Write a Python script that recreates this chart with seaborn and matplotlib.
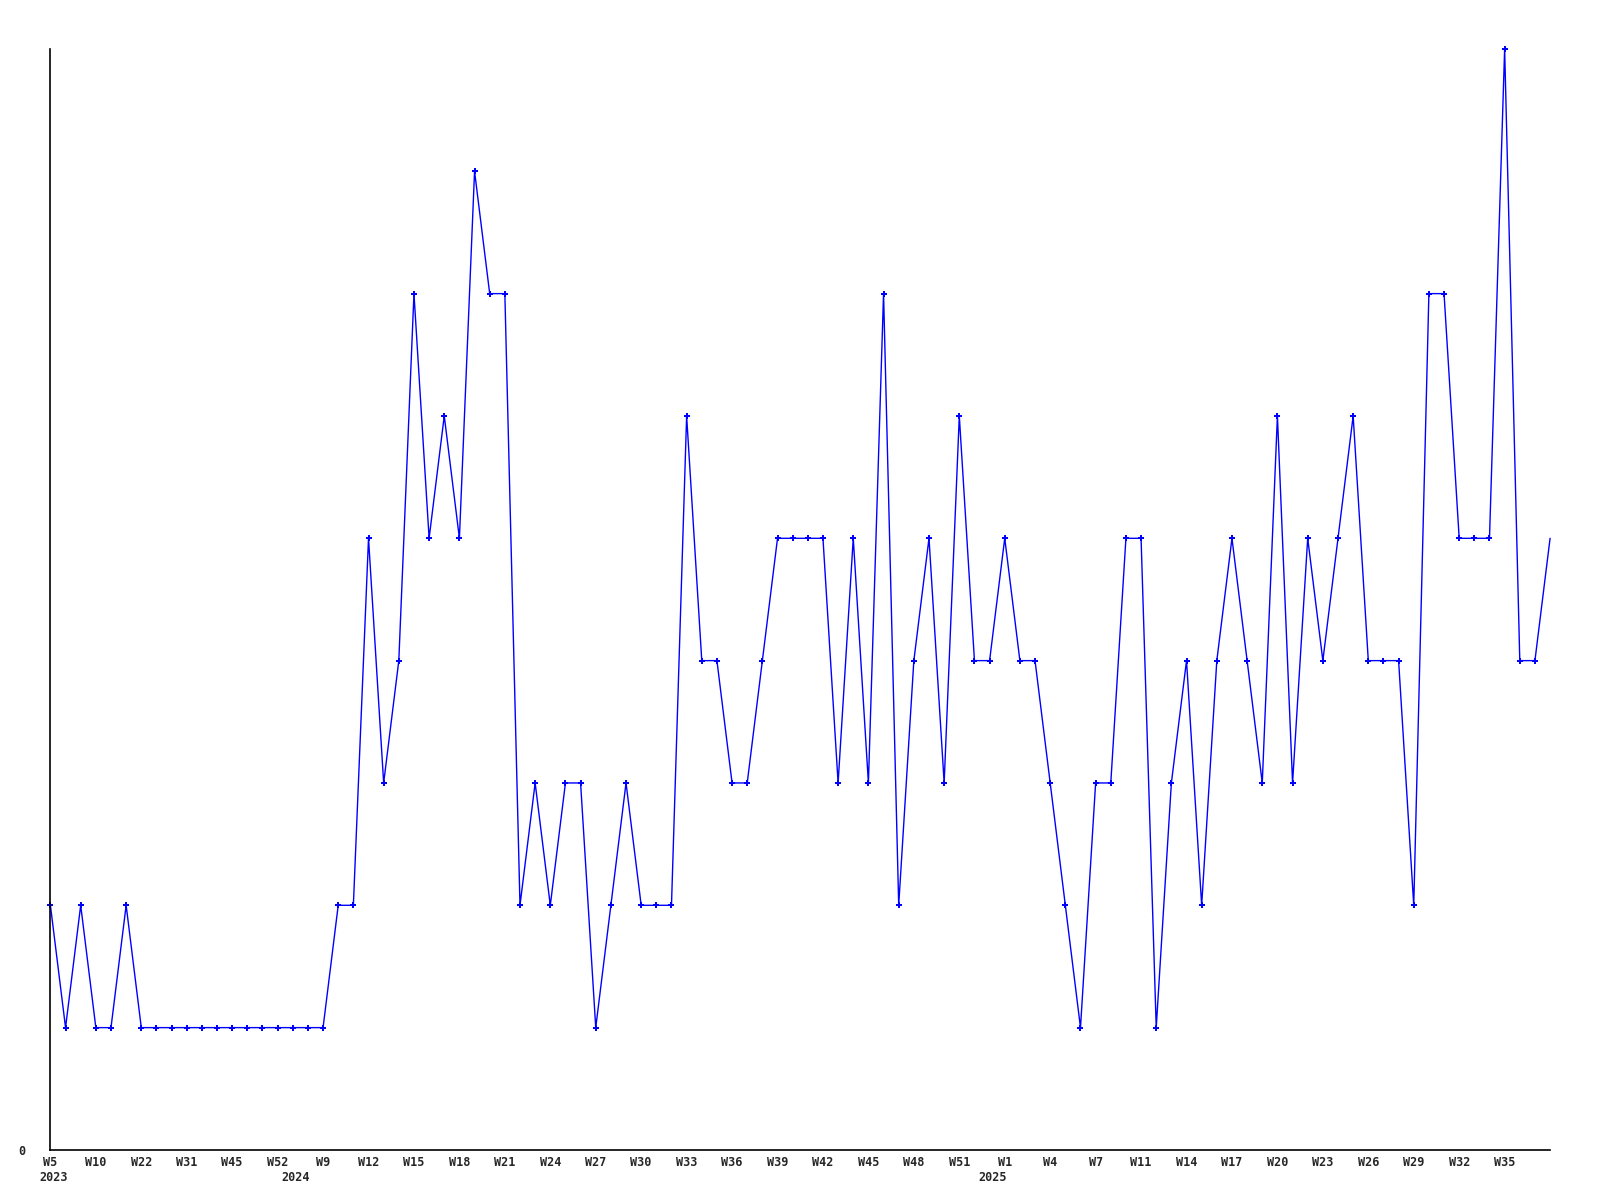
import matplotlib
matplotlib.use("Agg")
import matplotlib.pyplot as plt
import seaborn as sns
import pandas as pd
import numpy as np

# ---- data ----
values = [2, 1, 2, 1, 1, 2, 1, 1, 1, 1, 1, 1, 1, 1, 1, 1, 1, 1, 1,
          2, 2, 5, 3, 4, 7, 5, 6, 5, 8, 7, 7, 2, 3, 2, 3, 3, 1, 2, 3, 2,
          2, 2, 6, 4, 4, 3, 3, 4, 5, 5, 5, 5, 3, 5, 3, 7, 2, 4, 5, 3,
          6, 4, 4, 5, 4, 4, 3, 2, 1, 3, 3, 5, 5, 1, 3, 4, 2, 4, 5, 4,
          3, 6, 3, 5, 4, 5, 6, 4, 4, 4, 2, 7, 7, 5, 5, 5, 9, 4, 4, 5]
week_labels = ["W5", "W10", "W22", "W31", "W45", "W52", "W9", "W12", "W15",
               "W18", "W21", "W24", "W27", "W30", "W33", "W36", "W39", "W42",
               "W45", "W48", "W51", "W1", "W4", "W7", "W11", "W14", "W17",
               "W20", "W23", "W26", "W29", "W32", "W35"]
year_labels = ["2023", "2024", "2025"]
year_positions = [0.2, 16.2, 62.2]

df = pd.DataFrame({"idx": np.arange(len(values)), "value": values})

sns.set_theme(style="white")
plt.rcParams["font.family"] = ["DejaVu Sans Mono", "DejaVu Sans"]

fig = plt.figure(figsize=(16, 12), dpi=100)
ax = fig.add_axes([0.0315, 0.0417, 0.9373, 0.9175])

sns.lineplot(data=df, x="idx", y="value", ax=ax, color="#0000ff",
             linewidth=1.0, marker="P", markersize=4.5,
             markeredgewidth=0, markevery=list(range(len(values) - 1)),
             clip_on=False)

ax.set_xlim(0, len(values) - 1)
ax.set_ylim(0, 9)
ax.set_xlabel("")
ax.set_ylabel("")

ax.xaxis.remove_overlapping_locs = False
ax.set_xticks(np.arange(0, len(week_labels) * 3, 3))
ax.set_xticklabels(week_labels, fontsize=8.5, fontweight="bold")
ax.set_xticks(year_positions, minor=True)
ax.set_xticklabels(year_labels, minor=True, fontsize=8.5, fontweight="bold")
ax.tick_params(axis="x", which="major", length=0, pad=4)
ax.tick_params(axis="x", which="minor", length=0, pad=15)

ax.set_yticks([0])
ax.set_yticklabels(["0"], fontsize=8.5, fontweight="bold")
ax.tick_params(axis="y", length=0, pad=18)

for s in ["top", "right"]:
    ax.spines[s].set_visible(False)
for s in ["left", "bottom"]:
    ax.spines[s].set_color("black")
    ax.spines[s].set_linewidth(1.2)

ax.grid(False)
fig.savefig("out.png", dpi=100, facecolor="white")
